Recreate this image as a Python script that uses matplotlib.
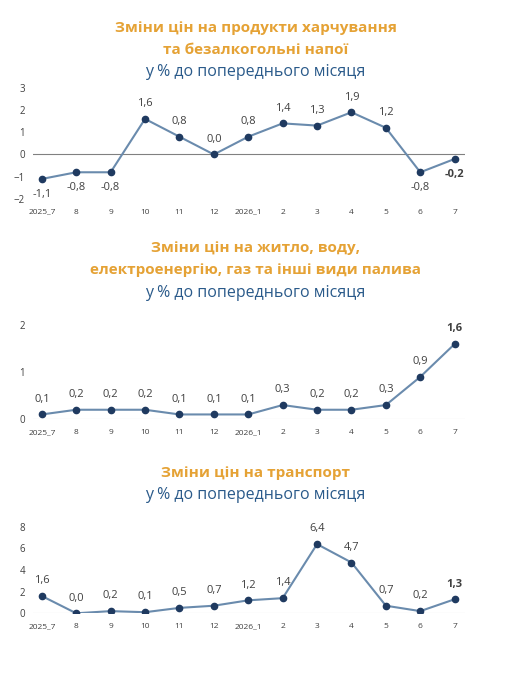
import matplotlib
matplotlib.use("Agg")
import matplotlib.pyplot as plt

plt.rcParams['font.family'] = ['Open Sans', 'DejaVu Sans']

cats = ["2025_7", "8", "9", "10", "11", "12", "2026_1", "2", "3", "4", "5", "6", "7"]
food = [-1.1, -0.8, -0.8, 1.6, 0.8, 0.0, 0.8, 1.4, 1.3, 1.9, 1.2, -0.8, -0.2]
housing = [0.1, 0.2, 0.2, 0.2, 0.1, 0.1, 0.1, 0.3, 0.2, 0.2, 0.3, 0.9, 1.6]
transport = [1.6, 0.0, 0.2, 0.1, 0.5, 0.7, 1.2, 1.4, 6.4, 4.7, 0.7, 0.2, 1.3]

ORANGE = "#E5A235"
BLUE = "#2A5A8A"
LINE = "#6A8BAD"
MARK = "#1F3A60"
TXT = "#404040"

fig = plt.figure(figsize=(5.11, 6.86), dpi=100)

def fmt(v):
    return f"{v:.1f}".replace(".", ",")

def panel(rect, vals, ylim, yticks, below_neg=False, zcol="#808080"):
    ax = fig.add_axes(rect)
    x = list(range(len(vals)))
    ax.plot(x, vals, color=LINE, lw=1.5, marker="o", ms=4.5, mfc=MARK, mec=MARK, zorder=3)
    ax.axhline(0, color=zcol, lw=0.8, zorder=1)
    ax.set_xlim(-0.25, 12.3)
    ax.set_ylim(*ylim)
    ax.set_yticks(yticks)
    ax.set_xticks(x)
    ax.set_xticklabels(cats)
    ax.tick_params(axis="x", labelsize=6, colors=TXT, length=0, pad=7)
    ax.tick_params(axis="y", labelsize=7, colors=TXT, length=0, pad=6)
    for s in ax.spines.values():
        s.set_visible(False)
    n = len(vals)
    for i, v in enumerate(vals):
        bold = (i == n - 1)
        if below_neg and v < 0:
            off, va = -7, "top"
        else:
            off, va = 7, "bottom"
        ax.annotate(fmt(v), (i, v), xytext=(0, off), textcoords="offset points",
                    ha="center", va=va, fontsize=8, color=TXT,
                    fontweight="bold" if bold else "normal")
    return ax

def titles(ys, texts, colors):
    for y, t, c in zip(ys, texts, colors):
        fig.text(0.5, 1 - y / 686, t, ha="center", va="center",
                 fontsize=11 if c == ORANGE else 11.5,
                 fontweight="bold" if c == ORANGE else "normal", color=c)

panel([0.065, 0.710, 0.845, 0.162], food, (-2, 3), [-2, -1, 0, 1, 2, 3], below_neg=True)
titles([28, 50, 72], ["Зміни цін на продукти харчування", "та безалкогольні напої",
                      "у % до попереднього місяця"], [ORANGE, ORANGE, BLUE])

panel([0.065, 0.389, 0.845, 0.137], housing, (0, 2), [0, 1, 2], zcol="#d9d9d9")
titles([248, 270, 293], ["Зміни цін на житло, воду,", "електроенергію, газ та інші види палива",
                         "у % до попереднього місяця"], [ORANGE, ORANGE, BLUE])

panel([0.065, 0.106, 0.845, 0.126], transport, (0, 8), [0, 2, 4, 6, 8], zcol="#d9d9d9")
titles([473, 495], ["Зміни цін на транспорт", "у % до попереднього місяця"], [ORANGE, BLUE])

fig.savefig("out.png", dpi=100, facecolor="white")
